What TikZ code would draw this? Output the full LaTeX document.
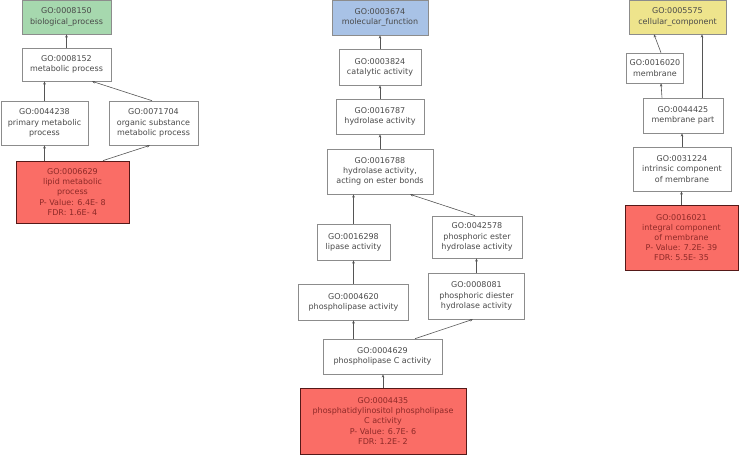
\documentclass[tikz,border=0pt]{standalone}
\usepackage{fontspec}
\setmainfont{DejaVu Sans}
\usetikzlibrary{arrows.meta, positioning}
\definecolor{cInk}{HTML}{4A4A4A}
\definecolor{cEdge}{HTML}{555555}
\definecolor{cLine}{HTML}{8C8C8C}
\definecolor{cBP}{HTML}{A6D8AE}
\definecolor{cMF}{HTML}{A8C2E6}
\definecolor{cCC}{HTML}{EEE48C}
\definecolor{cHit}{HTML}{FA6D66}
\definecolor{cHitD}{HTML}{8E2A28}
\tikzset{
  term/.style={rectangle, draw=cLine, line width=0.6pt, fill=white, align=center,
               font=\fontsize{8}{10.2}\selectfont, text=cInk, inner sep=0pt},
  root/.style={term},
  bproot/.style={root, fill=cBP},
  mfroot/.style={root, fill=cMF},
  ccroot/.style={root, fill=cCC},
  hit/.style={term, fill=cHit, draw=cHitD!60!black, line width=0.8pt, text=cHitD},
  isa/.style={-{Stealth[length=3.2pt, width=2.6pt]}, line width=0.6pt, draw=cEdge},
}

\begin{document}
\begin{tikzpicture}[x=1pt, y=-1pt]
  \useasboundingbox (0,0) rectangle (740,455);

  % ---- biological process
  \node[bproot, minimum width=89pt, minimum height=34pt] (bp)   at (66.5,17)   {GO:0008150\\ biological\_process};
  \node[term,   minimum width=89pt, minimum height=33pt] (met)  at (66.5,64.5) {GO:0008152\\ metabolic process};
  \node[term,   minimum width=87pt, minimum height=44pt] (prim) at (44.5,123)  {GO:0044238\\ primary metabolic\\ process};
  \node[term,   minimum width=89pt, minimum height=44pt] (org)  at (153.5,123) {GO:0071704\\ organic substance\\ metabolic process};
  \node[hit,    minimum width=113pt, minimum height=62pt] (lipid) at (72.5,192) {GO:0006629\\ lipid metabolic\\ process\\ P- Value: 6.4E- 8\\ FDR: 1.6E- 4};

  \draw[isa] (met.north) -- (bp.south);
  \draw[isa] (prim.north) -- (prim.north |- met.south);
  \draw[isa] ([xshift=-1.5pt]org.north) -- ([xshift=25.5pt]met.south);
  \draw[isa] (prim.south |- lipid.north) -- (prim.south);
  \draw[isa] ([xshift=30.5pt]lipid.north) -- ([xshift=-3.5pt]org.south);

  % ---- molecular function
  \node[mfroot, minimum width=96pt, minimum height=35pt] (mf)     at (380,17.5)  {GO:0003674\\ molecular\_function};
  \node[term,   minimum width=82pt, minimum height=36pt] (cat)    at (380,67)    {GO:0003824\\ catalytic activity};
  \node[term,   minimum width=88pt, minimum height=35pt] (hyd)    at (380,116.5) {GO:0016787\\ hydrolase activity};
  \node[term,   minimum width=106pt, minimum height=45pt] (hydest) at (380,171.5) {GO:0016788\\ hydrolase activity,\\ acting on ester bonds};
  \node[term,   minimum width=73pt, minimum height=36pt] (lip)    at (353.5,242) {GO:0016298\\ lipase activity};
  \node[term,   minimum width=110pt, minimum height=36pt] (phl)   at (353.5,302) {GO:0004620\\ phospholipase activity};
  \node[term,   minimum width=119pt, minimum height=35pt] (plc)   at (382.5,356.5) {GO:0004629\\ phospholipase C activity};
  \node[term,   minimum width=90pt, minimum height=42pt] (est)    at (477,237)   {GO:0042578\\ phosphoric ester\\ hydrolase activity};
  \node[term,   minimum width=96pt, minimum height=46pt] (dies)   at (476.5,296) {GO:0008081\\ phosphoric diester\\ hydrolase activity};
  \node[hit,    minimum width=166pt, minimum height=66pt] (pi)    at (383,421)   {GO:0004435\\ phosphatidylinositol phospholipase\\ C activity\\ P- Value: 6.7E- 6\\ FDR: 1.2E- 2};

  \draw[isa] (cat.north) -- (mf.south);
  \draw[isa] (hyd.north) -- (cat.south);
  \draw[isa] (hydest.north) -- (hyd.south);
  \draw[isa] (lip.north) -- (lip.north |- hydest.south);
  \draw[isa] (phl.north) -- (lip.south);
  \draw[isa] (phl.south |- plc.north) -- (phl.south);
  \draw[isa] ([xshift=-2pt]est.north) -- ([xshift=30pt]hydest.south);
  \draw[isa] (dies.north) -- (dies.north |- est.south);
  \draw[isa] ([xshift=32.5pt]plc.north) -- ([xshift=-3.5pt]dies.south);
  \draw[isa] (pi.north) -- (pi.north |- plc.south);

  % ---- cellular component
  \node[ccroot, minimum width=97pt, minimum height=34pt] (cc)    at (677.5,17)  {GO:0005575\\ cellular\_component};
  \node[term,   minimum width=57pt, minimum height=30pt] (mem)   at (655,68)    {GO:0016020\\ membrane};
  \node[term,   minimum width=80pt, minimum height=35pt] (mpart) at (683,115.5) {GO:0044425\\ membrane part};
  \node[term,   minimum width=98pt, minimum height=44pt] (intr)  at (682,169)   {GO:0031224\\ intrinsic component\\ of membrane};
  \node[hit,    minimum width=113pt, minimum height=65pt] (icm)  at (681.5,237.5) {GO:0016021\\ integral component\\ of membrane\\ P- Value: 7.2E- 39\\ FDR: 5.5E- 35};

  \draw[isa] ([xshift=6pt]mem.north) -- ([xshift=-23.5pt]cc.south);
  \draw[isa] ([xshift=-21pt]mpart.north) -- ([xshift=6pt]mem.south);
  \draw[isa] ([xshift=19pt]mpart.north) -- ([xshift=24.5pt]cc.south);
  \draw[isa] (intr.north) -- (intr.north |- mpart.south);
  \draw[isa] (icm.north) -- (icm.north |- intr.south);
\end{tikzpicture}
\end{document}
